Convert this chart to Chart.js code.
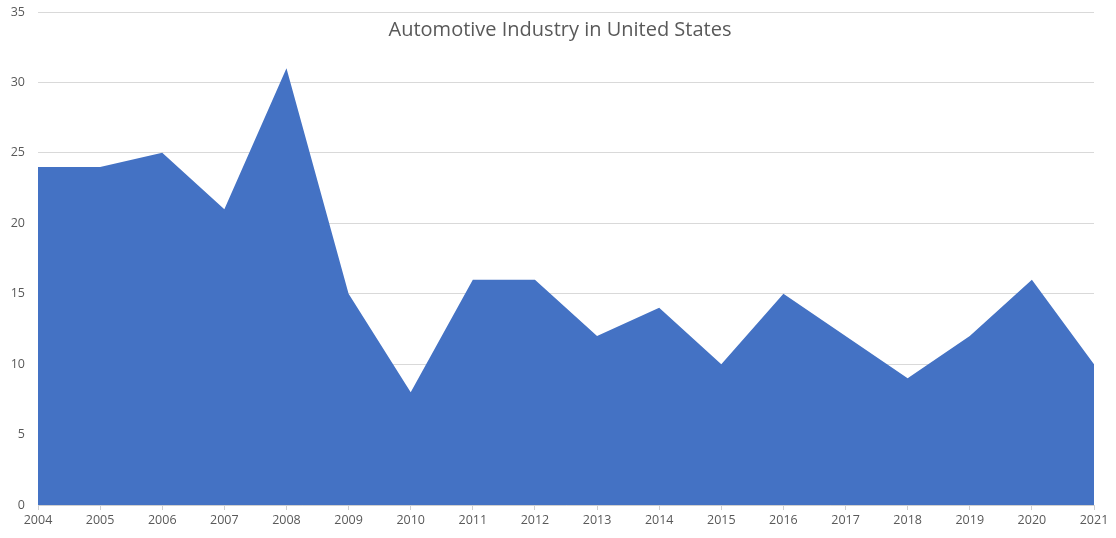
<!DOCTYPE html>
<html>
<head>
<meta charset="utf-8">
<script src="https://cdn.jsdelivr.net/npm/chart.js"></script>
<style>
  body { margin: 0; background: #fff; }
</style>
</head>
<body>
<canvas id="myChart" width="1116" height="538"></canvas>
<script>
var years = ['2004','2005','2006','2007','2008','2009','2010','2011','2012','2013','2014','2015','2016','2017','2018','2019','2020','2021'];
var values = [24,24,25,21,31,15,8,16,16,12,14,10,15,12,9,12,16,10];
var chartTitle = 'Automotive Industry in United States';

// title sits inside the plot area, drawn by hand
var innerTitle = {
  id: 'innerTitle',
  afterDraw: function(chart){
    var ctx = chart.ctx;
    var a = chart.chartArea;
    ctx.save();
    ctx.font = '20px "Open Sans", sans-serif';
    ctx.fillStyle = '#595959';
    ctx.textAlign = 'center';
    ctx.textBaseline = 'middle';
    ctx.fillText(chartTitle, (a.left + a.right) / 2 - 6, 30);
    ctx.restore();
  }
};

new Chart('myChart', {
  type: 'line',
  data: {
    labels: years,
    datasets: [{
      data: values,
      fill: 'origin',
      backgroundColor: '#4472C4',
      borderColor: '#4472C4',
      borderWidth: 0,
      pointRadius: 0,
      tension: 0
    }]
  },
  options: {
    responsive: false,
    animation: false,
    layout: { padding: { top: 12, right: 22, left: 0, bottom: 7 } },
    plugins: {
      legend: { display: false },
      tooltip: { enabled: false }
    },
    scales: {
      x: {
        offset: false,
        grid: { drawOnChartArea: false, drawTicks: true, tickLength: 5, color: '#d0d0d0' },
        border: { color: '#d0d0d0' },
        ticks: { color: '#595959', font: { family: '"Open Sans", sans-serif', size: 12.5 }, maxRotation: 0, padding: 3 }
      },
      y: {
        min: 0,
        max: 35,
        ticks: { stepSize: 5, color: '#595959', font: { family: '"Open Sans", sans-serif', size: 12.5 }, padding: 13 },
        grid: { color: '#d9d9d9', drawTicks: false },
        border: { display: false },
        afterFit: function(scale){
          scale.width = 38;
          scale.paddingTop = 0;
          scale.paddingBottom = 0;
        }
      }
    }
  },
  plugins: [innerTitle]
});
</script>
</body>
</html>
